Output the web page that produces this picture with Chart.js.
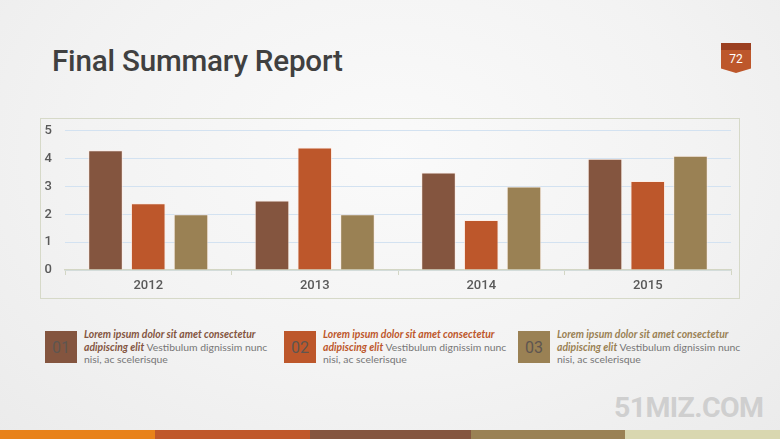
<!DOCTYPE html>
<html>
<head>
<meta charset="utf-8">
<script src="https://cdn.jsdelivr.net/npm/chart.js@4"></script>
<style>
  html, body { margin: 0; padding: 0; }
  body {
    width: 780px; height: 439px; overflow: hidden; position: relative;
    background: radial-gradient(ellipse at 50% 35%, #fafafa 0%, #f3f3f3 55%, #ebebeb 100%);
    font-family: Roboto, sans-serif;
  }
  .title { position: absolute; left: 52px; top: 44px; font-size: 29.6px; font-weight: 500; color: #404040; letter-spacing: -0.2px; }
  .badge {
    position: absolute; left: 721px; top: 43px; width: 30px; height: 30px;
    background: linear-gradient(#9b3f20 0, #9b3f20 7px, #bd572b 7px);
    clip-path: polygon(0 0, 100% 0, 100% 85%, 50% 100%, 0 85%);
    color: #fff; font-size: 12px; text-align: center; line-height: 32px;
  }
  .box { position: absolute; left: 40px; top: 118px; width: 698px; height: 179px; border: 1.5px solid #d6d9c8; }
  #chart { position: absolute; left: 40px; top: 110px; }
  .item { position: absolute; top: 331px; }
  .sq { position: absolute; left: 0; top: 0; width: 32px; height: 32px; color: #5e5550; font-size: 16px; text-align: center; line-height: 33px; }
  .txt { position: absolute; left: 39px; top: -3px; width: 200px; font-family: Lato, sans-serif; font-size: 10.4px; line-height: 12.6px; color: #767676; white-space: nowrap; }
  .txt b { font-style: italic; font-weight: 700; }
  .mark { position: absolute; left: 614px; top: 391px; font-size: 28.5px; font-weight: 700; color: #cfcfcf; letter-spacing: -0.6px; }
  .strip { position: absolute; top: 430px; height: 9px; }
</style>
</head>
<body>
<div class="title">Final Summary Report</div>
<div class="badge">72</div>
<div class="box"></div>
<canvas id="chart" width="700" height="189" style="width:700px;height:189px"></canvas>

<div class="item" style="left:45px">
  <div class="sq" style="background:#84553f">01</div>
  <div class="txt"><b style="color:#84553f">Lorem ipsum dolor sit amet consectetur<br>adipiscing elit</b> Vestibulum dignissim nunc<br>nisi, ac scelerisque</div>
</div>
<div class="item" style="left:284px">
  <div class="sq" style="background:#bd572b">02</div>
  <div class="txt"><b style="color:#bd572b">Lorem ipsum dolor sit amet consectetur<br>adipiscing elit</b> Vestibulum dignissim nunc<br>nisi, ac scelerisque</div>
</div>
<div class="item" style="left:518px">
  <div class="sq" style="background:#9a8154">03</div>
  <div class="txt"><b style="color:#9a8154">Lorem ipsum dolor sit amet consectetur<br>adipiscing elit</b> Vestibulum dignissim nunc<br>nisi, ac scelerisque</div>
</div>

<div class="mark">51MIZ.COM</div>
<div class="strip" style="left:0;width:155px;background:#e8821a"></div>
<div class="strip" style="left:155px;width:155px;background:#c0582b"></div>
<div class="strip" style="left:310px;width:161px;background:#84553f"></div>
<div class="strip" style="left:471px;width:154px;background:#9a8154"></div>
<div class="strip" style="left:625px;width:155px;background:#d9d7b0"></div>

<script>
var years = ["2012", "2013", "2014", "2015"];
var series1 = [4.3, 2.5, 3.5, 4.0];
var series2 = [2.4, 4.4, 1.8, 3.2];
var series3 = [2.0, 2.0, 3.0, 4.1];
var colors = ["#84553f", "#bd572b", "#9a8154"];

var ctx = document.getElementById("chart").getContext("2d");
new Chart(ctx, {
    type: 'bar',
    data: {
        labels: years,
        datasets: [series1, series2, series3].map(function (d, i) {
            return {
                data: d,
                backgroundColor: colors[i],
                borderColor: "rgba(255,235,225,0.7)",
                borderWidth: 1,
                categoryPercentage: 0.77,
                barPercentage: 0.81
            };
        })
    },
    options: {
        responsive: false,
        animation: false,
        layout: { padding: { left: 0, right: 9, top: 0, bottom: 0 } },
        plugins: { legend: { display: false }, tooltip: { enabled: false } },
        scales: {
            x: {
                grid: { drawOnChartArea: false, drawTicks: true, tickLength: 5, color: "#d3d6c4" },
                border: { display: true, color: "#d3d6c4", width: 1.5 },
                ticks: { color: "#595959", font: { family: "Roboto", size: 13, weight: 500 }, padding: 3 },
                afterFit: function (scale) { scale.height = 29; }
            },
            y: {
                min: 0, max: 5,
                grid: { color: "#d3e2f1", drawTicks: false },
                border: { display: false },
                ticks: { stepSize: 1, color: "#595959", font: { family: "Roboto", size: 13, weight: 500 }, padding: 13 },
                afterFit: function (scale) { scale.width = 25; }
            }
        }
    }
});
</script>
</body>
</html>
